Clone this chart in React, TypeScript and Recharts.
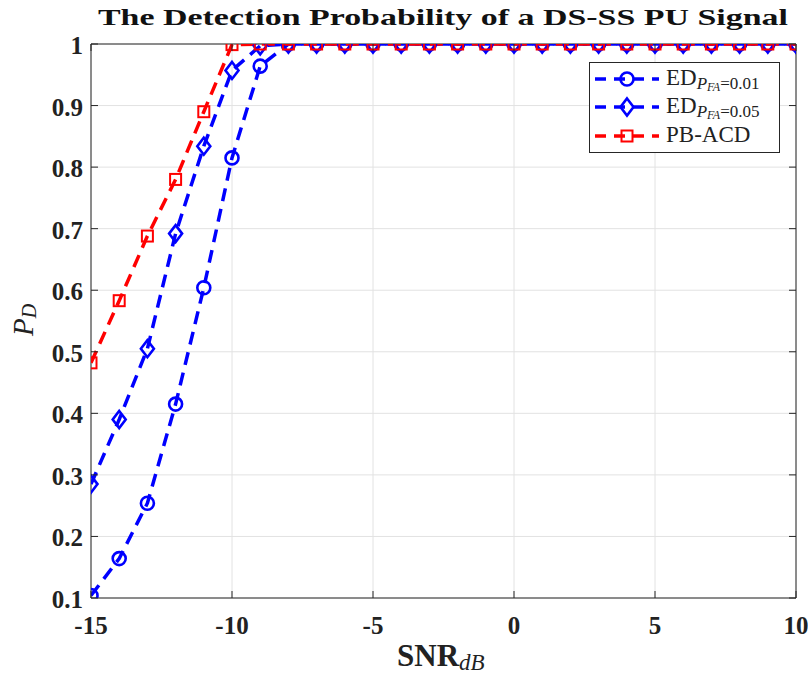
import React from 'react';
import { LineChart, Line, XAxis, YAxis, CartesianGrid, ReferenceArea } from 'recharts';

const snrDb = [-15, -14, -13, -12, -11, -10, -9, -8, -7, -6, -5, -4, -3, -2, -1, 0, 1, 2, 3, 4, 5, 6, 7, 8, 9, 10];
const edPfa001 = [0.104, 0.164, 0.254, 0.415, 0.604, 0.815, 0.964, 1, 1, 1, 1, 1, 1, 1, 1, 1, 1, 1, 1, 1, 1, 1, 1, 1, 1, 1];
const edPfa005 = [0.285, 0.39, 0.505, 0.692, 0.834, 0.957, 0.997, 1, 1, 1, 1, 1, 1, 1, 1, 1, 1, 1, 1, 1, 1, 1, 1, 1, 1, 1];
const pbAcd = [0.482, 0.583, 0.688, 0.78, 0.89, 0.999, 1, 1, 1, 1, 1, 1, 1, 1, 1, 1, 1, 1, 1, 1, 1, 1, 1, 1, 1, 1];
const xTicks = [-15, -10, -5, 0, 5, 10];
const yTicks = [0.1, 0.2, 0.3, 0.4, 0.5, 0.6, 0.7, 0.8, 0.9, 1];
const titleText = 'The Detection Probability of a DS-SS PU Signal';

const data = snrDb.map((s, i) => ({ snr: s, ed1: edPfa001[i], ed5: edPfa005[i], pb: pbAcd[i] }));

const BLUE = '#0000ff';
const RED = '#ff0000';
const AXIS = '#262626';
const FONT = "'Liberation Serif', 'DejaVu Serif', serif";

const PLOT_TOP = 44;
const PLOT_RIGHT = 796;

const XTick = (props: any) => {
  const { x, y, payload } = props;
  return (
    <g>
      <line x1={x} x2={x} y1={y} y2={y - 7} stroke={AXIS} strokeWidth={1} />
      <line x1={x} x2={x} y1={PLOT_TOP} y2={PLOT_TOP + 7} stroke={AXIS} strokeWidth={1} />
      <text x={x} y={y + 36} textAnchor="middle" fontFamily={FONT} fontWeight="bold" fontSize={25} fill="#222">
        {String(payload.value)}
      </text>
    </g>
  );
};

const YTick = (props: any) => {
  const { x, y, payload } = props;
  return (
    <g>
      <line x1={x} x2={x + 7} y1={y} y2={y} stroke={AXIS} strokeWidth={1} />
      <line x1={PLOT_RIGHT} x2={PLOT_RIGHT - 7} y1={y} y2={y} stroke={AXIS} strokeWidth={1} />
      <text x={x - 8} y={y + 10} textAnchor="end" fontFamily={FONT} fontWeight="bold" fontSize={25} fill="#222">
        {String(payload.value)}
      </text>
    </g>
  );
};

const CircleDot = (props: any) => {
  const { cx, cy, index } = props;
  if (cx == null || cy == null) return <g key={index} />;
  return <circle key={index} cx={cx} cy={cy} r={6.5} fill="none" stroke={BLUE} strokeWidth={2.6} />;
};

const DiamondDot = (props: any) => {
  const { cx, cy, index } = props;
  if (cx == null || cy == null) return <g key={index} />;
  const pts = `${cx},${cy - 8.5} ${cx + 6.5},${cy} ${cx},${cy + 8.5} ${cx - 6.5},${cy}`;
  return <polygon key={index} points={pts} fill="none" stroke={BLUE} strokeWidth={2.6} />;
};

const SquareDot = (props: any) => {
  const { cx, cy, index } = props;
  if (cx == null || cy == null) return <g key={index} />;
  return <rect key={index} x={cx - 5.5} y={cy - 5.5} width={11} height={11} fill="none" stroke={RED} strokeWidth={2} />;
};

const LegendBox = () => {
  const rows = [
    { y: 17, color: BLUE, kind: 'circle', main: 'ED', sub: '0.01' },
    { y: 45, color: BLUE, kind: 'diamond', main: 'ED', sub: '0.05' },
    { y: 74, color: RED, kind: 'square', main: 'PB-ACD', sub: '' },
  ];
  return (
    <svg width={191} height={91} style={{ display: 'block' }}>
      <rect x={0.5} y={0.5} width={190} height={90} fill="#fff" stroke={AXIS} strokeWidth={1} />
      {rows.map((r, i) => (
        <g key={i}>
          <line x1={6} x2={70} y1={r.y} y2={r.y} stroke={r.color} strokeWidth={3.5} strokeDasharray="11 8" />
          {r.kind === 'circle' && <circle cx={38} cy={r.y} r={6.5} fill="none" stroke={r.color} strokeWidth={2.6} />}
          {r.kind === 'diamond' && (
            <polygon points={`38,${r.y - 8.5} 44.5,${r.y} 38,${r.y + 8.5} 31.5,${r.y}`} fill="none" stroke={r.color} strokeWidth={2.6} />
          )}
          {r.kind === 'square' && <rect x={32.5} y={r.y - 5.5} width={11} height={11} fill="none" stroke={r.color} strokeWidth={2} />}
          <text x={77} y={r.y + 6} fontFamily={FONT} fontSize={23} fill="#222">
            {r.main}
            {r.sub && (
              <>
                <tspan dy={4} fontSize={17} fontStyle="italic">P</tspan>
                <tspan dy={2} fontSize={12} fontStyle="italic">FA</tspan>
                <tspan dy={-2} fontSize={17}>{'=' + r.sub}</tspan>
              </>
            )}
          </text>
        </g>
      ))}
    </svg>
  );
};

export default function App() {
  return (
    <div style={{ position: 'absolute', left: 0, top: 0, width: 808, height: 674, background: '#fff' }}>
      <LineChart width={808} height={674} data={data} margin={{ top: 44, right: 12, bottom: 0, left: 0 }}>
        <CartesianGrid stroke="#e2e2e2" strokeWidth={1} />
        <XAxis
          dataKey="snr"
          type="number"
          domain={[-15, 10]}
          ticks={xTicks}
          interval={0}
          height={76}
          tickSize={0}
          tickMargin={0}
          axisLine={false}
          tick={<XTick />}
          allowDataOverflow
        />
        <YAxis
          type="number"
          domain={[0.1, 1]}
          ticks={yTicks}
          interval={0}
          width={91}
          tickSize={0}
          tickMargin={0}
          axisLine={false}
          tick={<YTick />}
          allowDataOverflow
        />
        <ReferenceArea x1={-15} x2={10} y1={0.1} y2={1} fill="none" stroke={AXIS} strokeWidth={1} ifOverflow="visible" />
        <Line type="linear" dataKey="ed1" stroke={BLUE} strokeWidth={3.5} strokeDasharray="13 8" dot={<CircleDot />} isAnimationActive={false} />
        <Line type="linear" dataKey="ed5" stroke={BLUE} strokeWidth={3.5} strokeDasharray="13 8" dot={<DiamondDot />} isAnimationActive={false} />
        <Line type="linear" dataKey="pb" stroke={RED} strokeWidth={3.5} strokeDasharray="13 8" dot={<SquareDot />} isAnimationActive={false} />
      </LineChart>
      <div style={{ position: 'absolute', left: 589, top: 62 }}>
        <LegendBox />
      </div>
      <svg width={808} height={674} style={{ position: 'absolute', left: 0, top: 0, pointerEvents: 'none' }}>
        <text x={443} y={25} textAnchor="middle" fontFamily={FONT} fontWeight="bold" fontSize={23} fill="#111" textLength={690} lengthAdjust="spacingAndGlyphs">
          {titleText}
        </text>
        <text x={397} y={666} fontFamily={FONT} fontWeight="bold" fontSize={31} fill="#222">
          SNR
          <tspan dy={4} fontSize={23} fontStyle="italic" fontWeight="normal">dB</tspan>
        </text>
        <g transform="translate(33,336) rotate(-90)">
          <text x={0} y={0} fontFamily={FONT} fontSize={29} fontStyle="italic" fill="#222">
            P
            <tspan dy={3} fontSize={20}>D</tspan>
          </text>
        </g>
      </svg>
    </div>
  );
}
